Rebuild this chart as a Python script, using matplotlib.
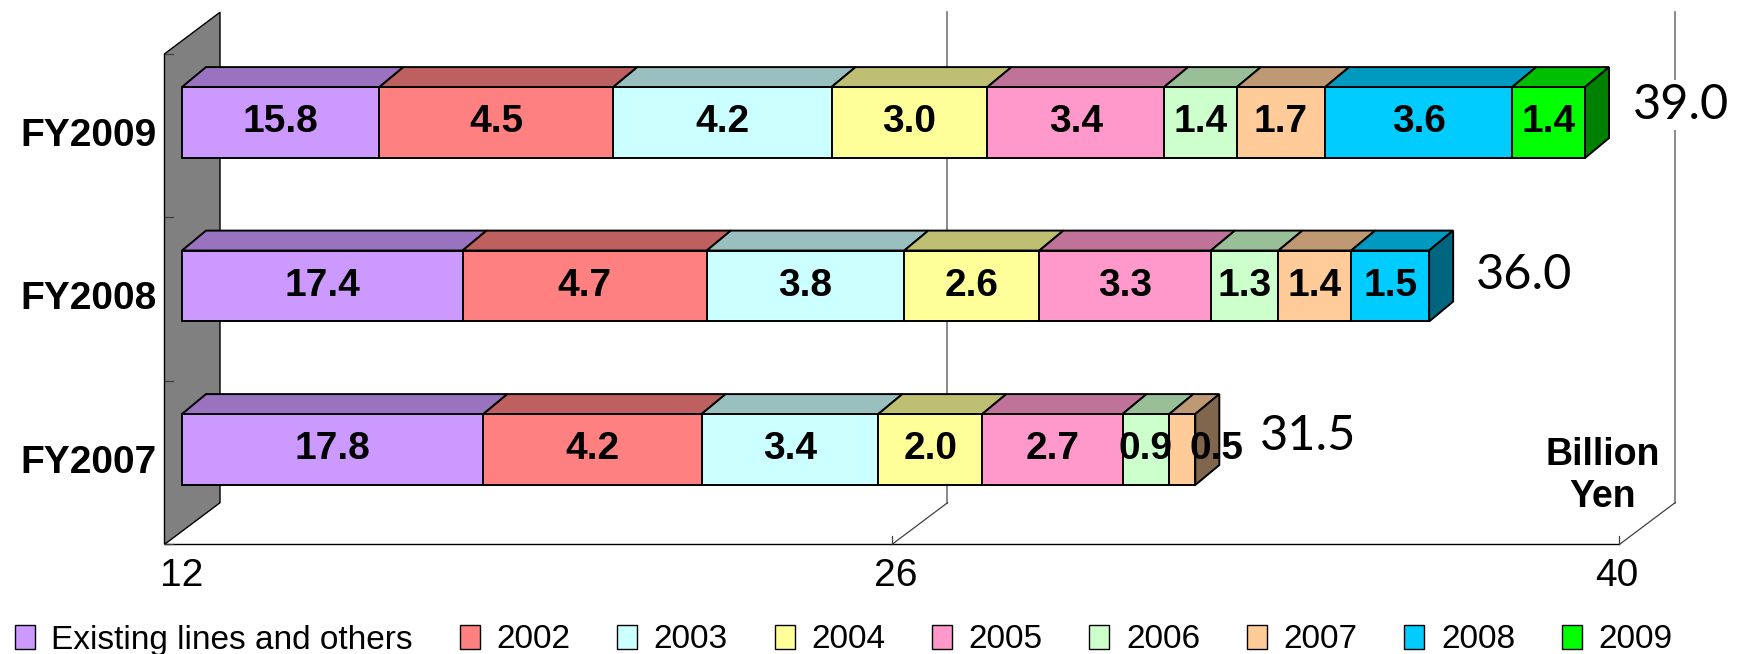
import matplotlib
matplotlib.use("Agg")
import matplotlib.pyplot as plt
from matplotlib.patches import Polygon, Patch
from matplotlib.lines import Line2D
from matplotlib.transforms import IdentityTransform
from matplotlib.colors import to_rgb

# Budget by line opening year, billion yen
years = ["FY2007", "FY2008", "FY2009"]
series = ["Existing lines and others", "2002", "2003", "2004", "2005",
          "2006", "2007", "2008", "2009"]
colors = ["#CC99FF", "#FF8080", "#CCFFFF", "#FFFF99", "#FF99CC",
          "#CCFFCC", "#FFCC99", "#00CCFF", "#00FF00"]

fy2007 = [17.8, 4.2, 3.4, 2.0, 2.7, 0.9, 0.5, 0.0, 0.0]
fy2008 = [17.4, 4.7, 3.8, 2.6, 3.3, 1.3, 1.4, 1.5, 0.0]
fy2009 = [15.8, 4.5, 4.2, 3.0, 3.4, 1.4, 1.7, 3.6, 1.4]
totals = ["31.5", "36.0", "39.0"]
rows = [fy2007, fy2008, fy2009]

x_ticks = [12, 26, 40]
x_min, x_max = 12, 40

plt.rcParams["font.family"] = "Liberation Sans"

fig = plt.figure(figsize=(17.43, 6.54), dpi=100)
ax = fig.add_axes([182 / 1743, 0.1877, 1455 / 1743, 0.75])
ax.set_xlim(x_min, x_max)
ax.set_ylim(-0.5, 2.5)
ax.axis("off")

BAR_H = 0.434
BAR_D, BAR_S = 24, 0.83          # bar depth (px) and slope
WALL_F, WALL_B, WALL_S = -17.5, 38, 0.75
PT = 72 / fig.dpi


def px(x, y, d=0, s=WALL_S):
    a, b = ax.transData.transform((x, y))
    return (a + d, b + s * d)


def face(pts, fc, z, ec="black", lw=1.4):
    ax.add_patch(Polygon(pts, closed=True, facecolor=fc, edgecolor=ec, lw=lw,
                         transform=IdentityTransform(), clip_on=False, zorder=z))


def seg(p0, p1, color, lw, z):
    ax.add_line(Line2D([p0[0], p1[0]], [p0[1], p1[1]], color=color, lw=lw,
                       transform=IdentityTransform(), clip_on=False, zorder=z))


def shade(c, f):
    r, g, b = to_rgb(c)
    return (r * f, g * f, b * f)


# back wall gridlines and floor
for t in x_ticks[1:]:
    seg(px(t, -0.5, WALL_B), px(t, 2.5, WALL_B), "#808080", 1.3, 0.5)
seg(px(26, -0.5, WALL_B), px(26, -0.5, WALL_F), "#404040", 0.9, 0.6)
seg(px(40, -0.5, WALL_B), px(40, -0.5, WALL_F), "#404040", 0.9, 0.6)
seg(px(12, -0.5, WALL_F), px(40, -0.5, WALL_F), "black", 1.0, 0.6)
for t in x_ticks:
    p = px(t, -0.5, WALL_F)
    seg(p, (p[0], p[1] + 8), "#404040", 0.9, 0.6)

# left side wall
face([px(12, -0.5, WALL_F), px(12, 2.5, WALL_F), px(12, 2.5, WALL_B),
      px(12, -0.5, WALL_B)], "#808080", 1, lw=1.0)
for k in range(4):
    p = px(12, k - 0.5, WALL_F)
    seg(p, (p[0] + 8, p[1]), "#404040", 0.9, 1.1)

# labels of thin end segments are pushed right so they stay readable
label_shift = {(0, 6): 34}

# stacked 3D bars
for i, vals in enumerate(rows):
    left = 0.0
    last = max(j for j, v in enumerate(vals) if v > 0)
    for j, v in enumerate(vals):
        if v <= 0:
            continue
        ax.barh(i, v, left=left, height=BAR_H, color=colors[j],
                edgecolor="black", lw=1.4, zorder=3)
        l, r = max(left, x_min), left + v
        yt, yb = i + BAR_H / 2, i - BAR_H / 2
        face([px(l, yt), px(r, yt), px(r, yt, BAR_D, BAR_S),
              px(l, yt, BAR_D, BAR_S)], shade(colors[j], 0.75), 3)
        if j == last:
            face([px(r, yb), px(r, yt), px(r, yt, BAR_D, BAR_S),
                  px(r, yb, BAR_D, BAR_S)], shade(colors[j], 0.5), 3)
        ax.annotate(f"{v:.1f}", xy=((l + r) / 2, i),
                    xytext=(label_shift.get((i, j), 0) * PT, 0),
                    textcoords="offset points", ha="center", va="center",
                    fontsize=28, fontweight="bold", zorder=6)
        left = r
    ax.plot([x_min, x_min], [i - BAR_H / 2, i + BAR_H / 2], color="black",
            lw=1.4, zorder=4, clip_on=False)

# totals at bar ends
tot_dx = [65, 47, 48]
tot_dy = [13.5, 10.5, 17.5]
for i, vals in enumerate(rows):
    ax.annotate(totals[i], xy=(sum(vals), i),
                xytext=(tot_dx[i] * PT, tot_dy[i] * PT),
                textcoords="offset points", ha="left", va="center",
                fontsize=35, family=["Lato", "DejaVu Sans"], fontweight="normal",
                color="black", zorder=5,
                bbox=dict(facecolor="white", edgecolor="none", pad=2))

# category labels on the front of the wall
for i, name in enumerate(years):
    ax.annotate(name, xy=(x_min, i), xytext=((WALL_F - 8) * PT, -13.5 * PT),
                textcoords="offset points", ha="right", va="center",
                fontsize=28, fontweight="bold")

# value axis labels
tick_dx = [0, -14, -20]
for t, dx in zip(x_ticks, tick_dx):
    ax.annotate(str(t), xy=(t, -0.5), xytext=(dx * PT, -45 * PT),
                textcoords="offset points", ha="center", va="center",
                fontsize=28)

fig.text(1603 / 1743, 1 - 476 / 654, "Billion\nYen", ha="center",
         va="center", multialignment="center", fontsize=27, fontweight="bold")

handles = [Patch(facecolor=c, edgecolor="black", lw=1.0) for c in colors]
fig.legend(handles, series, loc="center", bbox_to_anchor=(0.484, 1 - 640 / 654),
           ncol=9, frameon=False, fontsize=24, handlelength=0.6,
           handleheight=0.7, handletextpad=0.5, columnspacing=1.4,
           borderaxespad=0)

fig.savefig("out.png", dpi=100)
